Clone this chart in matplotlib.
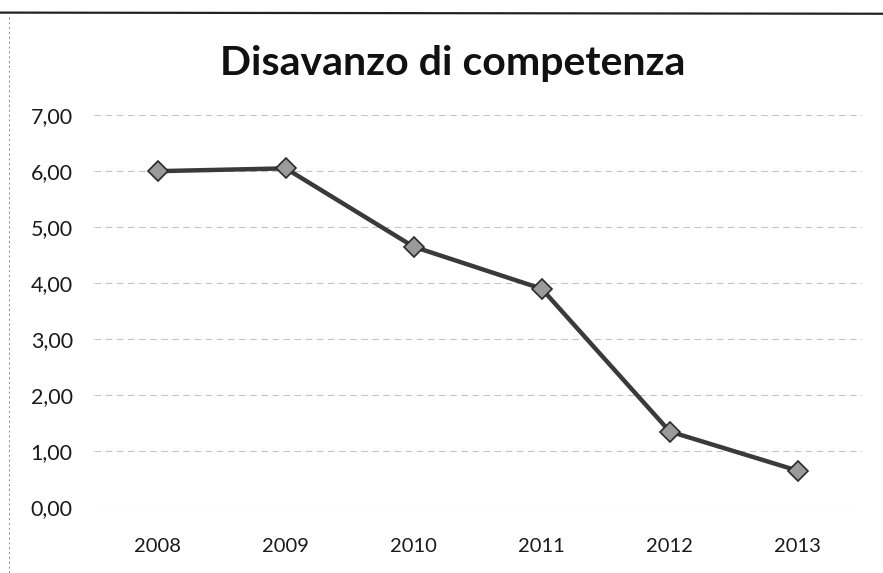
import matplotlib
matplotlib.use("Agg")
import matplotlib.pyplot as plt
from matplotlib.lines import Line2D

# values
years = ["2008", "2009", "2010", "2011", "2012", "2013"]
deficit = [6.00, 6.05, 4.65, 3.90, 1.35, 0.65]
y_ticks = [0, 1, 2, 3, 4, 5, 6, 7]

plt.rcParams["font.family"] = ["Lato", "DejaVu Sans"]

fig = plt.figure(figsize=(8.83, 5.73), dpi=100)
ax = fig.add_axes([0.106, 0.115, 0.870, 0.684])

x = list(range(len(years)))
ax.plot(x, deficit, color="#3a3a3a", linewidth=3.2, marker="D",
        markersize=10, markerfacecolor="#9a9a9a",
        markeredgecolor="#2a2a2a", markeredgewidth=1.2, zorder=3)

ax.set_xlim(-0.5, len(years) - 0.5)
ax.set_ylim(0, 7)
ax.set_xticks(x)
ax.set_xticklabels(years)
ax.set_yticks(y_ticks)
ax.set_yticklabels([f"{v:.2f}".replace(".", ",") for v in y_ticks])

ax.grid(axis="y", color="#c4c4c4", linestyle=(0, (6, 4)), linewidth=0.8)
ax.tick_params(axis="both", length=0, colors="#1a1a1a")
ax.tick_params(axis="y", pad=15, labelsize=15.5)
ax.tick_params(axis="x", pad=22, labelsize=14.5)
for side in ax.spines.values():
    side.set_visible(False)

fig.text(0.513, 0.89, "Disavanzo di competenza", ha="center", va="center",
         fontsize=29.5, fontweight="bold", color="#111111")

# scanned page edges
fig.add_artist(Line2D([0.0, 1.0], [0.978, 0.976], color="#222222",
                      linewidth=1.6, transform=fig.transFigure))
fig.add_artist(Line2D([0.01, 0.01], [0.0, 0.976], color="#888888",
                      linewidth=0.7, linestyle=(0, (2, 3)),
                      transform=fig.transFigure))

fig.savefig("out.png", dpi=100, facecolor="white")
